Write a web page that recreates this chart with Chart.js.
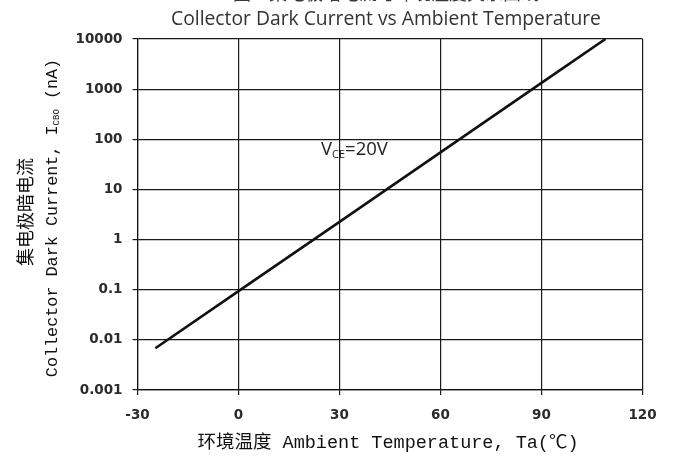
<!DOCTYPE html>
<html>
<head>
<meta charset="utf-8">
<script src="https://cdn.jsdelivr.net/npm/chart.js@4.4.1/dist/chart.umd.min.js"></script>
<style>
  html, body { margin: 0; padding: 0; background: #fff; }
  canvas { display: block; }
</style>
</head>
<body>
<canvas id="chart" width="677" height="458"></canvas>
<script>
// values
const temps = [-24.7, 0, 30, 60, 90, 109];
const darkCurrent = [0.0068, 0.094, 2.26, 55, 1330, 10000];

const xTicks = [-30, 0, 30, 60, 90, 120];
const yTicks = [0.001, 0.01, 0.1, 1, 10, 100, 1000, 10000];
const yTickLabels = ['0.001', '0.01', '0.1', '1', '10', '100', '1000', '10000'];

const titleCn = '图3  集电极暗电流与环境温度关系曲线';
const titleEn = 'Collector Dark Current vs Ambient Temperature';
const yTitleCn = '集电极暗电流';
const xTitle = '环境温度 Ambient Temperature, Ta(℃)';
const note = { temp: 24.5, current: 62 };

const MONO = "'Liberation Mono', 'Noto Sans CJK SC', monospace";
const CJK = "'Noto Sans CJK SC', sans-serif";

// draws pieces of text one after another, each with its own font and offset
function drawRuns(ctx, runs, x, y, align) {
    let total = 0;
    runs.forEach(r => { ctx.font = r.font; r.w = ctx.measureText(r.text).width; total += r.w; });
    let cx = align === 'center' ? x - total / 2 : x;
    runs.forEach(r => {
        ctx.font = r.font;
        ctx.fillText(r.text, cx, y + (r.dy || 0));
        cx += r.w;
    });
}

const textPlugin = {
    id: 'texts',
    afterDraw(chart) {
        const ctx = chart.ctx;
        const xs = chart.scales.x, ys = chart.scales.y;
        ctx.save();
        ctx.textBaseline = 'middle';
        ctx.textAlign = 'left';

        // titles (the first line is cut off at the top edge)
        ctx.fillStyle = '#3a3a3a';
        drawRuns(ctx, [{ text: titleCn, font: "18px " + CJK }], 386, -7, 'center');
        ctx.fillStyle = '#333';
        drawRuns(ctx, [{ text: titleEn, font: "19.3px 'Open Sans', sans-serif" }], 386, 20, 'center');

        // x title
        ctx.fillStyle = '#111';
        drawRuns(ctx, [{ text: xTitle, font: "18.5px " + MONO }], 388, 443, 'center');

        // y titles, rotated
        ctx.save();
        ctx.translate(25, 212);
        ctx.rotate(-Math.PI / 2);
        drawRuns(ctx, [{ text: yTitleCn, font: "18px " + CJK }], 0, 0, 'center');
        ctx.restore();

        ctx.save();
        ctx.translate(53, 218);
        ctx.rotate(-Math.PI / 2);
        drawRuns(ctx, [
            { text: 'Collector Dark Current, I', font: "16.8px " + MONO },
            { text: 'CBO', font: "9px " + MONO, dy: 4 },
            { text: ' (nA)', font: "16.8px " + MONO }
        ], 0, 0, 'center');
        ctx.restore();

        // condition label
        ctx.fillStyle = '#222';
        const nx = xs.getPixelForValue(note.temp);
        const ny = ys.getPixelForValue(note.current);
        drawRuns(ctx, [
            { text: 'V', font: "18.5px 'Open Sans', sans-serif" },
            { text: 'CE', font: "11px 'Open Sans', sans-serif", dy: 5 },
            { text: '=20V', font: "18.5px 'Open Sans', sans-serif" }
        ], nx, ny, 'left');
        ctx.restore();
    }
};

Chart.defaults.font.family = "'DejaVu Sans', sans-serif";

new Chart(document.getElementById('chart').getContext('2d'), {
    type: 'line',
    data: {
        datasets: [{
            data: temps.map((t, i) => ({ x: t, y: darkCurrent[i] })),
            borderColor: '#111',
            borderWidth: 2.6,
            pointRadius: 0,
            fill: false,
            tension: 0
        }]
    },
    options: {
        responsive: false,
        animation: false,
        devicePixelRatio: 1,
        layout: { padding: { top: 39, right: 34.5, left: 0, bottom: 0 } },
        plugins: { legend: { display: false }, tooltip: { enabled: false } },
        scales: {
            x: {
                type: 'linear',
                min: -30,
                max: 120,
                afterBuildTicks: s => { s.ticks = xTicks.map(v => ({ value: v })); },
                afterFit: s => { s.height = 68; },
                grid: { color: '#1a1a1a', lineWidth: 1.2, tickLength: 5 },
                border: { color: '#111', width: 1.2 },
                ticks: {
                    padding: 12,
                    maxRotation: 0,
                    color: '#2b2b2b',
                    font: { size: 13.5, weight: 'bold' },
                    callback: v => String(v)
                }
            },
            y: {
                type: 'logarithmic',
                min: 0.001,
                max: 10000,
                afterBuildTicks: s => { s.ticks = yTicks.map(v => ({ value: v })); },
                afterFit: s => { s.width = 137.5; },
                grid: { color: '#1a1a1a', lineWidth: 1.2, tickLength: 5 },
                border: { color: '#111', width: 1.2 },
                ticks: {
                    padding: 10,
                    color: '#2b2b2b',
                    font: { size: 13.5, weight: 'bold' },
                    callback: (v, i) => yTickLabels[i]
                }
            }
        }
    },
    plugins: [textPlugin]
});
</script>
</body>
</html>
